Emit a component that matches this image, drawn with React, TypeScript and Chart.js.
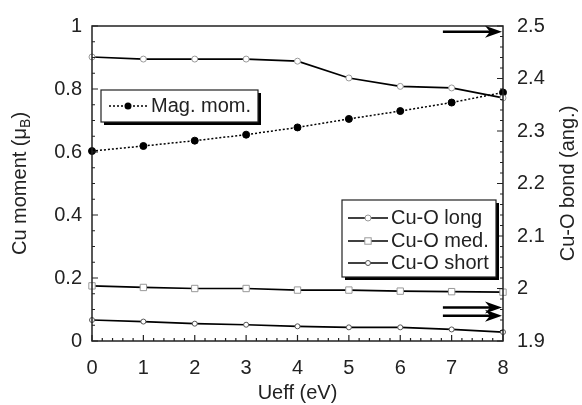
import React, { useEffect, useRef } from 'react';
import { Chart, registerables } from 'chart.js';
Chart.register(...registerables);

const ueff = [0, 1, 2, 3, 4, 5, 6, 7, 8];
const magMom = [0.603, 0.619, 0.636, 0.655, 0.678, 0.705, 0.730, 0.757, 0.789];
const cuOLong = [2.441, 2.437, 2.437, 2.437, 2.433, 2.401, 2.385, 2.382, 2.363];
const cuOMed = [2.005, 2.002, 2.0, 2.0, 1.997, 1.997, 1.995, 1.994, 1.993];
const cuOShort = [1.940, 1.937, 1.933, 1.931, 1.928, 1.926, 1.926, 1.922, 1.917];

const xTicks = [0, 1, 2, 3, 4, 5, 6, 7, 8];
const yLeftTicks = [0, 0.2, 0.4, 0.6, 0.8, 1];
const yRightTicks = [1.9, 2.0, 2.1, 2.2, 2.3, 2.4, 2.5];

const FONT = '"Liberation Sans", Arial, Helvetica, sans-serif';
const TXT = '#222';

const pts = (ys: number[]) => ueff.map((x, i) => ({ x, y: ys[i] }));

function drawMarker(ctx: CanvasRenderingContext2D, kind: string, x: number, y: number) {
  ctx.save();
  ctx.lineWidth = 1;
  ctx.setLineDash([]);
  if (kind === 'mag') {
    ctx.fillStyle = '#000';
    ctx.beginPath(); ctx.arc(x, y, 3.5, 0, Math.PI * 2); ctx.fill();
  } else if (kind === 'long') {
    ctx.fillStyle = '#fff'; ctx.strokeStyle = '#999';
    ctx.beginPath(); ctx.arc(x, y, 3, 0, Math.PI * 2); ctx.fill(); ctx.stroke();
  } else if (kind === 'med') {
    ctx.fillStyle = '#fff'; ctx.strokeStyle = '#999';
    ctx.fillRect(x - 3.2, y - 3.2, 6.4, 6.4); ctx.strokeRect(x - 3.2, y - 3.2, 6.4, 6.4);
  } else {
    ctx.fillStyle = '#fff'; ctx.strokeStyle = '#555';
    ctx.beginPath(); ctx.arc(x, y, 2.5, 0, Math.PI * 2); ctx.fill(); ctx.stroke();
  }
  ctx.restore();
}

function arrow(ctx: CanvasRenderingContext2D, x1: number, x2: number, y: number) {
  ctx.save();
  ctx.strokeStyle = '#000'; ctx.fillStyle = '#000'; ctx.lineWidth = 2.5;
  ctx.beginPath(); ctx.moveTo(x1, y); ctx.lineTo(x2 - 8, y); ctx.stroke();
  ctx.beginPath();
  ctx.moveTo(x2, y); ctx.lineTo(x2 - 17, y - 6); ctx.lineTo(x2 - 12, y); ctx.lineTo(x2 - 17, y + 6);
  ctx.closePath(); ctx.fill();
  ctx.restore();
}

function legendBox(ctx: CanvasRenderingContext2D, x: number, y: number, w: number, h: number) {
  ctx.save();
  ctx.fillStyle = '#000';
  ctx.fillRect(x + 3, y + 3, w, h);
  ctx.fillStyle = '#fff';
  ctx.fillRect(x, y, w, h);
  ctx.strokeStyle = '#222'; ctx.lineWidth = 1.2;
  ctx.strokeRect(x, y, w, h);
  ctx.restore();
}

const decorPlugin = {
  id: 'decor',
  afterDraw(chart: any) {
    const ctx: CanvasRenderingContext2D = chart.ctx;
    const { left, right, top, bottom } = chart.chartArea;
    const xs = chart.scales.x, yl = chart.scales.y, yr = chart.scales.y1;
    ctx.save();
    // frame
    ctx.strokeStyle = '#222'; ctx.lineWidth = 1.5;
    ctx.strokeRect(left, top, right - left, bottom - top);
    // ticks
    ctx.lineWidth = 1.2;
    ctx.beginPath();
    for (let i = 0; i <= 40; i++) {
      const px = xs.getPixelForValue(i * 0.2);
      const len = i % 5 === 0 ? 6 : 3;
      ctx.moveTo(px, bottom); ctx.lineTo(px, bottom - len);
    }
    for (let i = 0; i <= 20; i++) {
      const py = yl.getPixelForValue(i * 0.05);
      const len = i % 4 === 0 ? 6 : 3;
      ctx.moveTo(left, py); ctx.lineTo(left + len, py);
    }
    for (let i = 0; i <= 30; i++) {
      const py = yr.getPixelForValue(1.9 + i * 0.02);
      const len = i % 5 === 0 ? 6 : 3;
      ctx.moveTo(right, py); ctx.lineTo(right - len, py);
    }
    ctx.stroke();

    // arrows
    const ax1 = xs.getPixelForValue(6.83);
    const ax2 = right - 1;
    arrow(ctx, ax1, ax2, yr.getPixelForValue(2.489));
    arrow(ctx, ax1, ax2, yr.getPixelForValue(1.964));
    arrow(ctx, ax1, ax2, yr.getPixelForValue(1.948));

    // titles
    ctx.fillStyle = TXT;
    ctx.textBaseline = 'middle';
    const cy = (top + bottom) / 2;
    // left title with subscript
    ctx.save();
    ctx.translate(20, cy);
    ctx.rotate(-Math.PI / 2);
    const big = '20px ' + FONT, small = '14px ' + FONT;
    ctx.font = big;
    const s1 = 'Cu moment (\u03bc', s3 = ')';
    const w1 = ctx.measureText(s1).width, w3 = ctx.measureText(s3).width;
    ctx.font = small;
    const w2 = ctx.measureText('B').width;
    let sx = -(w1 + w2 + w3) / 2;
    ctx.textAlign = 'left';
    ctx.font = big; ctx.fillText(s1, sx, 0); sx += w1;
    ctx.font = small; ctx.fillText('B', sx, 6); sx += w2;
    ctx.font = big; ctx.fillText(s3, sx, 0);
    ctx.restore();
    // right title
    ctx.save();
    ctx.translate(568, cy);
    ctx.rotate(-Math.PI / 2);
    ctx.font = '20px ' + FONT; ctx.textAlign = 'center';
    ctx.fillText('Cu-O bond (ang.)', 0, 0);
    ctx.restore();
    // x title
    ctx.font = '20px ' + FONT; ctx.textAlign = 'center';
    ctx.fillText('Ueff (eV)', (left + right) / 2, 393);

    // legend 1
    legendBox(ctx, 101, 90, 157, 32);
    ctx.save();
    ctx.strokeStyle = '#000'; ctx.lineWidth = 1.5; ctx.setLineDash([2, 2]);
    ctx.beginPath(); ctx.moveTo(109, 106); ctx.lineTo(147, 106); ctx.stroke();
    ctx.restore();
    drawMarker(ctx, 'mag', 128, 106);
    ctx.fillStyle = TXT; ctx.font = '20px ' + FONT; ctx.textAlign = 'left';
    ctx.fillText('Mag. mom.', 151, 106);

    // legend 2
    legendBox(ctx, 342, 200, 154, 77);
    const entries = [['long', 'Cu-O long', 218], ['med', 'Cu-O med.', 241], ['short', 'Cu-O short', 263]];
    for (const [k, label, yy] of entries as any) {
      ctx.save();
      ctx.strokeStyle = '#000'; ctx.lineWidth = 1.6;
      ctx.beginPath(); ctx.moveTo(348, yy); ctx.lineTo(388, yy); ctx.stroke();
      ctx.restore();
      drawMarker(ctx, k, 368, yy);
      ctx.fillStyle = TXT; ctx.font = '20px ' + FONT; ctx.textAlign = 'left';
      ctx.fillText(label, 391, yy);
    }
    ctx.restore();
  },
};

export default function App() {
  const ref = useRef<HTMLCanvasElement | null>(null);
  useEffect(() => {
    if (!ref.current) return;
    const fmt = (v: any) => String(Math.round(Number(v) * 10) / 10);
    const tickFont = { family: FONT, size: 20 };
    const chart = new Chart(ref.current, {
      type: 'line',
      data: {
        datasets: [
          {
            label: 'Cu-O long', data: pts(cuOLong), yAxisID: 'y1',
            borderColor: '#000', borderWidth: 1.7, pointStyle: 'circle', pointRadius: 3,
            pointBackgroundColor: '#fff', pointBorderColor: '#999', pointBorderWidth: 1, clip: false,
          },
          {
            label: 'Cu-O med.', data: pts(cuOMed), yAxisID: 'y1',
            borderColor: '#000', borderWidth: 1.7, pointStyle: 'rect', pointRadius: 4.5,
            pointBackgroundColor: '#fff', pointBorderColor: '#999', pointBorderWidth: 1, clip: false,
          },
          {
            label: 'Cu-O short', data: pts(cuOShort), yAxisID: 'y1',
            borderColor: '#000', borderWidth: 1.7, pointStyle: 'circle', pointRadius: 2.5,
            pointBackgroundColor: '#fff', pointBorderColor: '#555', pointBorderWidth: 1, clip: false,
          },
          {
            label: 'Mag. mom.', data: pts(magMom), yAxisID: 'y',
            borderColor: '#000', borderWidth: 1.5, borderDash: [2, 2], pointStyle: 'circle', pointRadius: 3.5,
            pointBackgroundColor: '#000', pointBorderColor: '#000', pointBorderWidth: 1, clip: false,
          },
        ] as any,
      },
      options: {
        responsive: false,
        animation: false,
        layout: { padding: { top: 20, left: 0, right: 0, bottom: 0 } },
        plugins: { legend: { display: false }, tooltip: { enabled: false } },
        scales: {
          x: {
            type: 'linear', min: 0, max: 8, position: 'bottom',
            afterBuildTicks: (s: any) => { s.ticks = xTicks.map((v) => ({ value: v })); },
            afterFit: (s: any) => { s.height = 64; },
            grid: { display: false, drawTicks: false },
            border: { display: false },
            ticks: { font: tickFont, color: TXT, padding: 15, maxRotation: 0, callback: fmt },
          },
          y: {
            type: 'linear', min: 0, max: 1, position: 'left',
            afterBuildTicks: (s: any) => { s.ticks = yLeftTicks.map((v) => ({ value: v })); },
            afterFit: (s: any) => { s.width = 92; },
            grid: { display: false, drawTicks: false },
            border: { display: false },
            ticks: { font: tickFont, color: TXT, padding: 10, callback: fmt },
          },
          y1: {
            type: 'linear', min: 1.9, max: 2.5, position: 'right',
            afterBuildTicks: (s: any) => { s.ticks = yRightTicks.map((v) => ({ value: v })); },
            afterFit: (s: any) => { s.width = 79; },
            grid: { display: false, drawTicks: false },
            border: { display: false },
            ticks: { font: tickFont, color: TXT, padding: 14, callback: fmt },
          },
        },
      } as any,
      plugins: [decorPlugin],
    });
    return () => chart.destroy();
  }, []);
  return (
    <div style={{ position: 'fixed', left: 0, top: 0, width: 582, height: 405, background: '#fff' }}>
      <canvas ref={ref} width={582} height={405} />
    </div>
  );
}
